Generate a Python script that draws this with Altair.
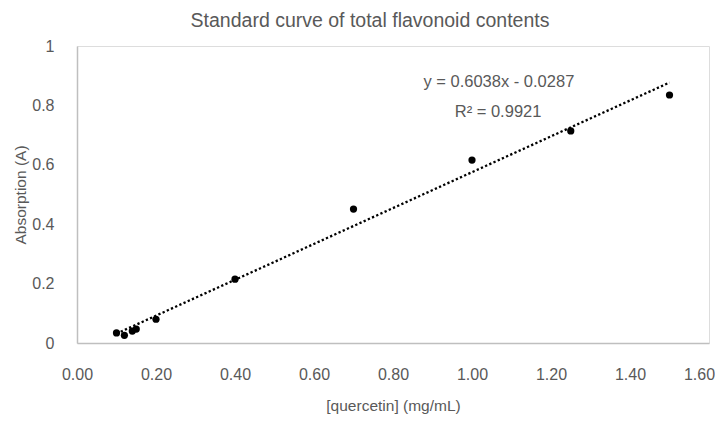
import altair as alt
import pandas as pd

# Measured data points
conc = [0.10, 0.12, 0.14, 0.15, 0.20, 0.40, 0.70, 1.00, 1.25, 1.50]
absorb = [0.034, 0.026, 0.040, 0.047, 0.080, 0.215, 0.451, 0.616, 0.714, 0.835]

# Linear trendline as printed on the chart
slope = 0.6038
intercept = -0.0287
trend_x = [0.10, 1.50]

# Annotation texts and their data positions
ann_text = ["y = 0.6038x - 0.0287", "R² = 0.9921"]
ann_x = [1.068, 1.066]
ann_y = [0.879, 0.778]

x_ticks = [0.0, 0.2, 0.4, 0.6, 0.8, 1.0, 1.2, 1.4, 1.6]
y_ticks = [0, 0.2, 0.4, 0.6, 0.8, 1.0]

FONT = "Liberation Sans"
TXT = "#595959"

pts = pd.DataFrame({"x": conc, "y": absorb})
trend = pd.DataFrame({"x": trend_x, "y": [slope * v + intercept for v in trend_x]})
ann = pd.DataFrame({"x": ann_x, "y": ann_y, "t": ann_text})

xs = alt.Scale(domain=[0, 1.6], nice=False, zero=False)
ys = alt.Scale(domain=[0, 1], nice=False)

xaxis = alt.Axis(values=x_ticks, format=".2f", grid=False, ticks=False,
                 domainColor="#bfbfbf", domainWidth=1.5,
                 labelFont=FONT, labelFontSize=16, labelColor=TXT, labelPadding=23,
                 labelOffset={"condition": {"test": "datum.value > 1.5", "value": -10}, "value": 0},
                 titleFont=FONT, titleFontSize=15.5, titleColor=TXT,
                 titleFontWeight="normal", titlePadding=16, labelFlush=False)
yaxis = alt.Axis(values=y_ticks, grid=False, ticks=False,
                 domainColor="#bfbfbf", domainWidth=1.5,
                 labelFont=FONT, labelFontSize=16, labelColor=TXT, labelPadding=23,
                 titleFont=FONT, titleFontSize=15.5, titleColor=TXT,
                 titleFontWeight="normal", titlePadding=3,
                 labelExpr="datum.value == 0 ? '0' : datum.value == 1 ? '1' : format(datum.value, '.1f')")

line = alt.Chart(trend).mark_line(color="#000000", strokeWidth=2.3,
                                   strokeDash=[2.3, 2.3], strokeCap="butt").encode(
    x=alt.X("x:Q", scale=xs, axis=xaxis, title="[quercetin] (mg/mL)"),
    y=alt.Y("y:Q", scale=ys, axis=yaxis, title="Absorption (A)"),
)

points = alt.Chart(pts).mark_circle(color="#000000", opacity=1, size=52).encode(
    x=alt.X("x:Q", scale=xs),
    y=alt.Y("y:Q", scale=ys),
)

labels = alt.Chart(ann).mark_text(font=FONT, fontSize=16.5, color=TXT,
                                  align="center", baseline="middle").encode(
    x=alt.X("x:Q", scale=xs),
    y=alt.Y("y:Q", scale=ys),
    text="t:N",
)

chart = alt.layer(line, points, labels).properties(
    width=632,
    height=297,
    title=alt.TitleParams("Standard curve of total flavonoid contents",
                          font=FONT, fontSize=19.5, color=TXT, fontWeight="normal",
                          anchor="middle", frame="group", dx=-23, offset=7),
    autosize=alt.AutoSizeParams(type="none"),
    padding={"left": 69, "top": 38, "right": 6, "bottom": 74},
).configure_view(stroke=None).configure(background="white")

chart.save("out.html", embed_options={"renderer": "svg", "actions": False})
